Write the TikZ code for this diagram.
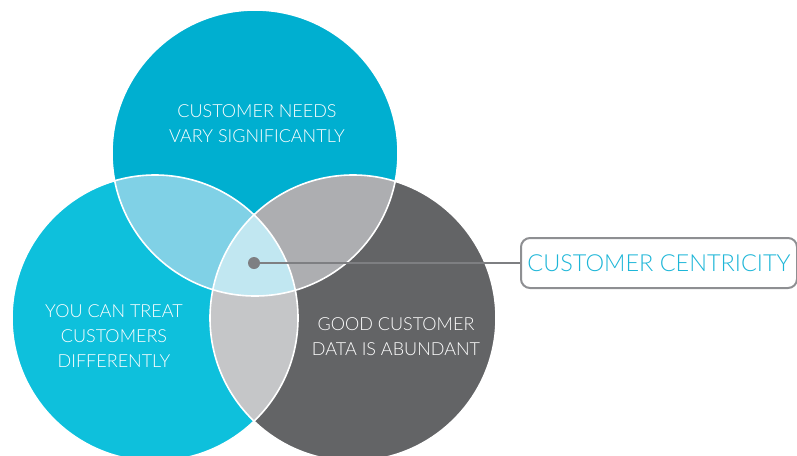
\documentclass[tikz,border=0pt]{standalone}
\usepackage{fontspec}
\setmainfont{Lato Light}
\definecolor{topblue}{HTML}{00AFD0}
\definecolor{leftblue}{HTML}{0EC0DC}
\definecolor{darkgrey}{HTML}{636466}
\definecolor{tlmix}{HTML}{80D1E6}
\definecolor{trmix}{HTML}{ADAEB1}
\definecolor{lrmix}{HTML}{C5C6C8}
\definecolor{core}{HTML}{C1E7F1}
\definecolor{pointer}{HTML}{7E7F82}
\definecolor{framegrey}{HTML}{8E8F92}
\definecolor{labelblue}{HTML}{1DB6D8}
\begin{document}
\begin{tikzpicture}[x=1pt,y=-1pt,
  setlabel/.style={text=white,align=center,font=\fontsize{18}{25}\selectfont},
  ring/.style={draw=white,line width=1.6pt}]
\useasboundingbox (0,0) rectangle (797,455);
\clip (0,0) rectangle (797,455);
\def\R{143}
\coordinate (ct) at (255,153);
\coordinate (cl) at (155,318);
\coordinate (cr) at (353,318);
% base discs
\fill[leftblue] (cl) circle (\R);
\fill[darkgrey] (cr) circle (\R);
\fill[topblue] (ct) circle (\R);
% pairwise overlaps
\begin{scope}\clip (ct) circle (\R); \fill[tlmix] (cl) circle (\R); \end{scope}
\begin{scope}\clip (ct) circle (\R); \fill[trmix] (cr) circle (\R); \end{scope}
\begin{scope}\clip (cl) circle (\R); \fill[lrmix] (cr) circle (\R); \end{scope}
% triple overlap
\begin{scope}\clip (ct) circle (\R); \clip (cl) circle (\R); \fill[core] (cr) circle (\R); \end{scope}
% white outlines
\draw[ring] (ct) circle (\R);
\draw[ring] (cl) circle (\R);
\draw[ring] (cr) circle (\R);
% labels
\node[setlabel] (needs) at (257,124) {CUSTOMER NEEDS\\VARY SIGNIFICANTLY};
\node[setlabel] (treat) at (114,336) {YOU CAN TREAT\\CUSTOMERS\\DIFFERENTLY};
\node[setlabel] (data) at (396,337) {GOOD CUSTOMER\\DATA IS ABUNDANT};
% pointer to the centre
\node[circle,fill=pointer,inner sep=0pt,minimum size=12pt] (dot) at (254,263) {};
\node[draw=framegrey,line width=2pt,rounded corners=9pt,fill=white,
      minimum width=276pt,minimum height=50pt,inner sep=0pt,anchor=west,
      text=labelblue,font=\fontsize{23.5}{23.5}\selectfont] (centric) at (520,263)
      {CUSTOMER CENTRICITY};
\draw[pointer,line width=2.5pt] (dot.center) -- (centric.west);
\end{tikzpicture}
\end{document}
